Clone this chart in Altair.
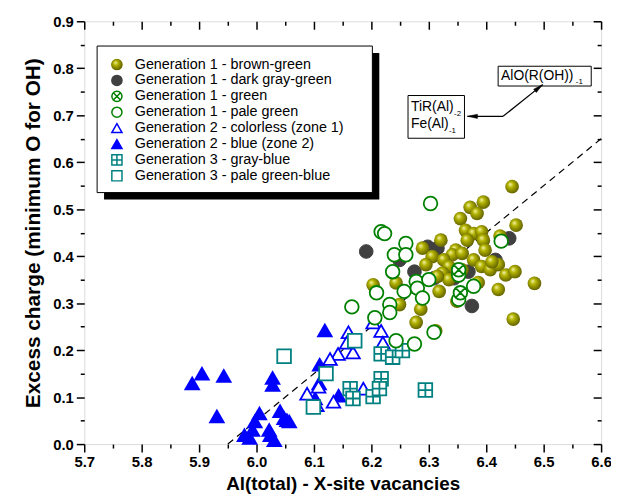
import altair as alt
import pandas as pd

# ---------------- data ----------------
series_names = [
    "Generation 1 - brown-green",
    "Generation 1 - dark gray-green",
    "Generation 1 - green",
    "Generation 1 - pale green",
    "Generation 2 - colorless (zone 1)",
    "Generation 2 - blue (zone 2)",
    "Generation 3 - gray-blue",
    "Generation 3 - pale green-blue",
]

g1_brown_x = [6.372, 6.395, 6.384, 6.355, 6.364, 6.378, 6.392, 6.395, 6.398, 6.367,
              6.321, 6.289, 6.347, 6.341, 6.358, 6.306, 6.326, 6.378, 6.295, 6.335,
              6.392, 6.407, 6.358, 6.324, 6.335, 6.315, 6.203, 6.243, 6.318, 6.349,
              6.249, 6.286, 6.278, 6.312, 6.445, 6.452, 6.424, 6.421, 6.434, 6.450,
              6.484, 6.447, 6.421, 6.410, 6.386]
g1_brown_y = [0.504, 0.515, 0.491, 0.480, 0.455, 0.448, 0.452, 0.434, 0.413, 0.434,
              0.434, 0.417, 0.413, 0.403, 0.406, 0.399, 0.392, 0.392, 0.382, 0.378,
              0.378, 0.371, 0.371, 0.364, 0.350, 0.357, 0.339, 0.343, 0.325, 0.304,
              0.297, 0.287, 0.259, 0.241, 0.548, 0.466, 0.443, 0.382, 0.360, 0.367,
              0.342, 0.266, 0.329, 0.388, 0.344]

g1_dark_x = [6.191, 6.298, 6.315, 6.249, 6.275, 6.309, 6.369, 6.344, 6.375, 6.416, 6.440]
g1_dark_y = [0.410, 0.420, 0.417, 0.392, 0.367, 0.353, 0.367, 0.353, 0.294, 0.392, 0.438]

g1_green_x = [6.352, 6.355]
g1_green_y = [0.371, 0.322]

g1_pale_x = [6.303, 6.217, 6.223, 6.260, 6.240, 6.260, 6.237, 6.278, 6.300, 6.209,
             6.257, 6.280, 6.289, 6.232, 6.232, 6.352, 6.378, 6.352, 6.166, 6.206,
             6.243, 6.275, 6.309, 6.426]
g1_pale_y = [0.512, 0.452, 0.448, 0.427, 0.403, 0.403, 0.367, 0.346, 0.350, 0.322,
             0.325, 0.332, 0.311, 0.297, 0.280, 0.360, 0.336, 0.308, 0.292, 0.269,
             0.220, 0.213, 0.238, 0.432]

g2_colorless_x = [6.160, 6.203, 6.217, 6.220, 6.168, 6.157, 6.142, 6.128, 6.108, 6.088,
                  6.134, 6.186, 6.105]
g2_colorless_y = [0.238, 0.259, 0.241, 0.216, 0.195, 0.216, 0.192, 0.181, 0.122, 0.107,
                  0.090, 0.118, 0.083]

g2_blue_x = [5.888, 5.905, 5.943, 5.931, 5.979, 5.988, 5.997, 6.005, 5.993, 6.022,
             6.024, 6.031, 6.028, 6.028, 6.041, 6.048, 6.053, 6.119, 6.110, 6.102,
             6.143, 6.057, 6.109]
g2_blue_y = [0.129, 0.150, 0.145, 0.059, 0.019, 0.013, 0.048, 0.065, 0.030, 0.030,
             0.019, 0.008, 0.141, 0.126, 0.070, 0.055, 0.051, 0.242, 0.169, 0.097,
             0.103, 0.048, 0.129]

g3_grayblue_x = [6.163, 6.168, 6.203, 6.217, 6.214, 6.217, 6.237, 6.254, 6.294]
g3_grayblue_y = [0.118, 0.097, 0.101, 0.139, 0.118, 0.192, 0.185, 0.199, 0.115]

g3_pale_x = [6.048, 6.121, 6.099, 6.171]
g3_pale_y = [0.187, 0.150, 0.079, 0.220]

# dashed reference line
diag_x = [5.95, 6.60]
diag_y = [0.00, 0.65]

# axis ticks
x_major = [5.7, 5.8, 5.9, 6.0, 6.1, 6.2, 6.3, 6.4, 6.5, 6.6]
x_minor = [5.75, 5.85, 5.95, 6.05, 6.15, 6.25, 6.35, 6.45, 6.55]
y_major = [0.0, 0.1, 0.2, 0.3, 0.4, 0.5, 0.6, 0.7, 0.8, 0.9]
y_minor = [0.05, 0.15, 0.25, 0.35, 0.45, 0.55, 0.65, 0.75, 0.85]

# annotations
box_x = [6.4207, 6.2638]
box_x2 = [6.5828, 6.3621]
box_y = [0.8043, 0.7420]
box_y2 = [0.7622, 0.6510]

ann_text = ["AlO(R(OH))", "-1", "TiR(Al)", "-2", "Fe(Al)", "-1"]
ann_x = [6.4259, 6.5560, 6.2690, 6.3440, 6.2690, 6.3350]
ann_y = [0.7757, 0.7665, 0.7083, 0.6990, 0.6724, 0.6632]
ann_size = [14, 8, 14, 8, 14, 8]

arrow_x = [6.4293, 6.4293]
arrow_y = [0.6977, 0.6977]
arrow_x2 = [6.3672, 6.4983]
arrow_y2 = [0.6977, 0.7652]
head_x = [6.3760, 6.4916]
head_y = [0.6977, 0.7586]
head_angle = [180, 321]

# ---------------- build tables ----------------
def tbl(xs, ys, name):
    return pd.DataFrame({"x": xs, "y": ys, "series": name})

df_dark = tbl(g1_dark_x, g1_dark_y, series_names[1])
df_olive = tbl(g1_brown_x, g1_brown_y, series_names[0])
df_rest = pd.concat([
    tbl(g2_blue_x, g2_blue_y, series_names[5]),
    tbl(g2_colorless_x, g2_colorless_y, series_names[4]),
    tbl(g3_grayblue_x, g3_grayblue_y, series_names[6]),
    tbl(g3_pale_x, g3_pale_y, series_names[7]),
    tbl(g1_pale_x, g1_pale_y, series_names[3]),
    tbl(g1_green_x, g1_green_y, series_names[2]),
], ignore_index=True)
df_legend = pd.DataFrame({"series": series_names, "i": list(range(len(series_names)))})

FONT = "Liberation Sans"
xs = alt.Scale(domain=[5.7, 6.6], nice=False, zero=False)
ys = alt.Scale(domain=[0.0, 0.9], nice=False, zero=False)

crossed_circle = "M-1,0A1,1,0,1,1,1,0A1,1,0,1,1,-1,0Z M-0.707,-0.707L0.707,0.707 M-0.707,0.707L0.707,-0.707"
hatched_square = "M-1,-1L1,-1L1,1L-1,1Z M0,-1L0,1 M-1,0L1,0"

shape_scale = alt.Scale(domain=series_names, range=[
    "circle", "circle", crossed_circle, "circle", "triangle-up", "triangle-up", hatched_square, "square"])
stroke_scale = alt.Scale(domain=series_names, range=[
    "#8c8c00", "#404040", "#008000", "#008000", "#0000ff", "#0000ff", "#008080", "#008080"])
fill_scale = alt.Scale(domain=series_names, range=[
    "#8c8c00", "#404040", "#ffffff", "#ffffff", "#ffffff", "#0000ff", "#ffffff", "#ffffff"])
size_scale = alt.Scale(domain=series_names, range=[190, 190, 130, 130, 260, 260, 110, 110])


def series_enc(ch):
    return ch.encode(
        x=alt.X("x:Q", scale=xs, axis=None),
        y=alt.Y("y:Q", scale=ys, axis=None),
        shape=alt.Shape("series:N", scale=shape_scale, legend=None),
        stroke=alt.Stroke("series:N", scale=stroke_scale, legend=None),
        fill=alt.Fill("series:N", scale=fill_scale, legend=None),
        size=alt.Size("series:N", scale=size_scale, legend=None),
    )

dark_layer = series_enc(alt.Chart(df_dark).mark_point(opacity=1, strokeWidth=1))

sphere = alt.RadialGradient(
    gradient="radial",
    stops=[alt.GradientStop(offset=0.0, color="#f6f6b4"),
           alt.GradientStop(offset=0.35, color="#b4b400"),
           alt.GradientStop(offset=1.0, color="#5a5a00")],
    x1=0.36, y1=0.32, r1=0.0, x2=0.45, y2=0.45, r2=0.6)

olive_layer = alt.Chart(df_olive).mark_point(
    shape="circle", size=190, filled=True, fill=sphere, opacity=1, strokeWidth=0
).encode(x=alt.X("x:Q", scale=xs, axis=None), y=alt.Y("y:Q", scale=ys, axis=None))

rest_layer = series_enc(alt.Chart(df_rest).mark_point(opacity=1, strokeWidth=1.8))

# dashed line
diag = alt.Chart(pd.DataFrame({"x": diag_x, "y": diag_y})).mark_line(
    color="black", strokeWidth=1.2, strokeDash=[7, 5]
).encode(x=alt.X("x:Q", scale=xs, axis=None), y=alt.Y("y:Q", scale=ys, axis=None))

# legend frame (decoration, pixel positions)
one = pd.DataFrame({"a": [0]})
shadow = alt.Chart(one).mark_rect(fill="black").encode(
    x=alt.value(20), x2=alt.value(298), y=alt.value(32), y2=alt.value(180))
legbox = alt.Chart(one).mark_rect(fill="white", stroke="black", strokeWidth=1).encode(
    x=alt.value(13), x2=alt.value(291), y=alt.value(25), y2=alt.value(173))

# legend entries (rows placed in pixels inside the box)
leg_base = alt.Chart(df_legend).transform_calculate(py="43.7 + 16.05 * datum.i")
leg_sym = leg_base.mark_point(opacity=1, strokeWidth=1.5, size=105).encode(
    x=alt.value(33),
    y=alt.Y("py:Q", scale=None, axis=None),
    shape=alt.Shape("series:N", scale=shape_scale, legend=None),
    stroke=alt.Stroke("series:N", scale=stroke_scale, legend=None),
    fill=alt.Fill("series:N", scale=fill_scale, legend=None),
)
leg_sphere = leg_base.transform_filter(alt.datum.i == 0).mark_point(
    shape="circle", size=120, filled=True, fill=sphere, opacity=1, strokeWidth=0
).encode(x=alt.value(33), y=alt.Y("py:Q", scale=None, axis=None))
leg_text = leg_base.mark_text(align="left", baseline="middle", font=FONT, fontSize=14.5,
                              color="black").encode(
    x=alt.value(51), y=alt.Y("py:Q", scale=None, axis=None), text="series:N")

# annotation boxes / text / arrows
boxes = alt.Chart(pd.DataFrame({"x": box_x, "x2": box_x2, "y": box_y, "y2": box_y2})).mark_rect(
    fill="white", stroke="black", strokeWidth=1
).encode(x=alt.X("x:Q", scale=xs, axis=None), x2="x2:Q",
         y=alt.Y("y:Q", scale=ys, axis=None), y2="y2:Q")

ann_df = pd.DataFrame({"x": ann_x, "y": ann_y, "t": ann_text, "s": ann_size})
ann_big = alt.Chart(ann_df).transform_filter(alt.datum.s > 10).mark_text(
    align="left", baseline="alphabetic", font=FONT, color="black", fontSize=14
).encode(x=alt.X("x:Q", scale=xs, axis=None), y=alt.Y("y:Q", scale=ys, axis=None), text="t:N")
ann_small = alt.Chart(ann_df).transform_filter(alt.datum.s < 10).mark_text(
    align="left", baseline="alphabetic", font=FONT, color="black", fontSize=8
).encode(x=alt.X("x:Q", scale=xs, axis=None), y=alt.Y("y:Q", scale=ys, axis=None), text="t:N")

arrows = alt.Chart(pd.DataFrame({"x": arrow_x, "y": arrow_y, "x2": arrow_x2, "y2": arrow_y2})).mark_rule(
    color="black", strokeWidth=1.2
).encode(x=alt.X("x:Q", scale=xs, axis=None), x2="x2:Q",
         y=alt.Y("y:Q", scale=ys, axis=None), y2="y2:Q")

heads = alt.Chart(pd.DataFrame({"x": head_x, "y": head_y, "a": head_angle})).mark_point(
    shape="M1,0L-1,-0.42L-1,0.42Z", size=100, filled=True, fill="black", stroke="black",
    strokeWidth=0.5, opacity=1
).encode(x=alt.X("x:Q", scale=xs, axis=None), y=alt.Y("y:Q", scale=ys, axis=None),
         angle=alt.Angle("a:Q", scale=None))

# axes layers (independent axes, shared scales)
dummy = pd.DataFrame({"x": [5.7], "y": [0.0]})
common = dict(domain=False, tickColor="black", tickWidth=1.5, grid=False)

ax_main = alt.Chart(dummy).mark_point(opacity=0).encode(
    x=alt.X("x:Q", scale=xs, axis=alt.Axis(
        orient="bottom", values=x_major, format=".1f", tickSize=8, labelPadding=3,
        labelFont=FONT, labelFontSize=15, labelFontWeight="bold", labelColor="black",
        title="Al(total) - X-site vacancies", titleFont=FONT, titleFontSize=19,
        titleFontWeight="bold", titleColor="black", titlePadding=5, labelFlush=False,
        labelOverlap=False, **common)),
    y=alt.Y("y:Q", scale=ys, axis=alt.Axis(
        orient="left", values=y_major, format=".1f", tickSize=8, labelPadding=3,
        labelFont=FONT, labelFontSize=15, labelFontWeight="bold", labelColor="black",
        title="Excess charge (minimum O for OH)", titleFont=FONT, titleFontSize=21,
        titleFontWeight="bold", titleColor="black", titlePadding=9, labelFlush=False,
        labelOverlap=False, **common)),
)
ax_minor = alt.Chart(dummy).mark_point(opacity=0).encode(
    x=alt.X("x:Q", scale=xs, axis=alt.Axis(orient="bottom", values=x_minor, tickSize=4,
                                           labels=False, title=None, **common)),
    y=alt.Y("y:Q", scale=ys, axis=alt.Axis(orient="left", values=y_minor, tickSize=4,
                                           labels=False, title=None, **common)),
)
ax_top = alt.Chart(dummy).mark_point(opacity=0).encode(
    x=alt.X("x:Q", scale=xs, axis=alt.Axis(orient="top", values=x_major, tickSize=8, offset=-8,
                                           labels=False, title=None, **common)),
    y=alt.Y("y:Q", scale=ys, axis=alt.Axis(orient="right", values=y_major, tickSize=8, offset=-8,
                                           labels=False, title=None, **common)),
)
ax_top_minor = alt.Chart(dummy).mark_point(opacity=0).encode(
    x=alt.X("x:Q", scale=xs, axis=alt.Axis(orient="top", values=x_minor, tickSize=4, offset=-4,
                                           labels=False, title=None, **common)),
    y=alt.Y("y:Q", scale=ys, axis=alt.Axis(orient="right", values=y_minor, tickSize=4, offset=-4,
                                           labels=False, title=None, **common)),
)

chart = alt.layer(
    ax_main, ax_minor, ax_top, ax_top_minor,
    shadow, legbox, leg_sym, leg_sphere, leg_text,
    diag, dark_layer, olive_layer, rest_layer,
    boxes, ann_big, ann_small, arrows, heads,
).resolve_axis(x="independent", y="independent").properties(
    width=522, height=427,
    autosize=alt.AutoSizeParams(type="none"),
    padding={"left": 77, "top": 11, "right": 10, "bottom": 48},
).configure_view(stroke="black", strokeWidth=2).configure(background="white")

chart.save("out.html", embed_options={"renderer": "svg", "actions": False})
